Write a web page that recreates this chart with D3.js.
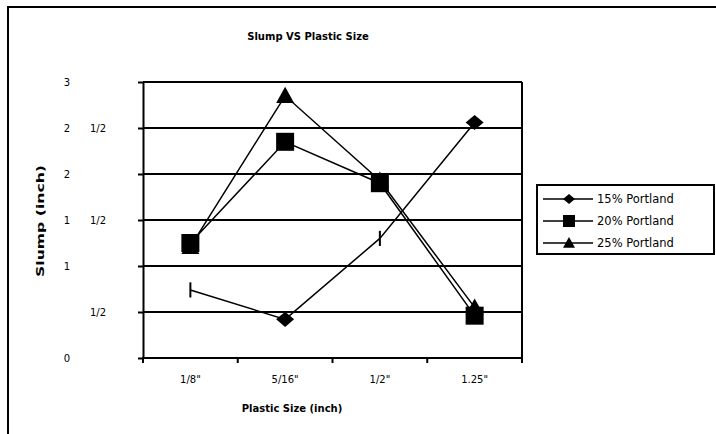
<!DOCTYPE html>
<html lang="en">
<head>
    <meta charset="UTF-8">
    <title>Slump VS Plastic Size</title>
    <script src="https://cdn.jsdelivr.net/npm/d3@7"></script>
    <style>
        html, body { margin: 0; background: #fff; overflow: hidden; }
        svg { display: block; }
        svg text { font-family: "DejaVu Sans", Verdana, sans-serif; fill: #000; }
    </style>
</head>
<body>
    <div class="chart"></div>
    <script>
    "use strict";

    // data
    var sizes = ['1/8"', '5/16"', '1/2"', '1.25"'];
    var portland15 = [0.74, 0.42, 1.30, 2.56];
    var portland20 = [1.25, 2.35, 1.90, 0.46];
    var portland25 = [1.21, 2.85, 1.93, 0.55];
    var seriesNames = ["15% Portland", "20% Portland", "25% Portland"];
    var yTicks = [0, 0.5, 1, 1.5, 2, 2.5, 3];
    var yTickWhole = ["0", "", "1", "1", "2", "2", "3"];
    var yTickFrac = ["", "1/2", "", "1/2", "", "1/2", ""];

    // marker drawn at each point of the 15% series (as rendered in the original)
    var marks15 = ["bar", "diamond", "bar", "diamond"];

    var W = 716, H = 434;
    var plot = {left: 143, right: 522, top: 82, bottom: 358};

    var svg = d3.select(".chart").append("svg")
        .attr("width", W)
        .attr("height", H);

    // outer frame (clipped at right / bottom)
    svg.append("path")
        .attr("d", "M8," + (H + 5) + "V7H" + (W + 5))
        .attr("fill", "none")
        .attr("stroke", "#000")
        .attr("stroke-width", 2);

    var x = d3.scaleBand()
        .domain(sizes)
        .range([plot.left, plot.right])
        .padding(0);

    var y = d3.scaleLinear()
        .domain([0, 3])
        .range([plot.bottom, plot.top]);

    // gridlines
    svg.selectAll("line.grid")
        .data(yTicks.filter(function(d) { return d > 0; }))
        .enter().append("line")
        .attr("class", "grid")
        .attr("x1", plot.left)
        .attr("x2", plot.right)
        .attr("y1", function(d) { return y(d); })
        .attr("y2", function(d) { return y(d); })
        .attr("stroke", "#000")
        .attr("stroke-width", 2);

    // right border
    svg.append("line")
        .attr("x1", plot.right).attr("x2", plot.right)
        .attr("y1", plot.top).attr("y2", plot.bottom)
        .attr("stroke", "#000").attr("stroke-width", 2);

    // y axis
    var yAxis = svg.append("g")
        .attr("transform", "translate(" + plot.left + ",0)")
        .call(d3.axisLeft(y).tickValues(yTicks).tickSize(5).tickSizeOuter(0).tickFormat(""));
    yAxis.selectAll("path, line").attr("stroke", "#000").attr("stroke-width", 2);

    svg.selectAll("text.ywhole")
        .data(yTicks)
        .enter().append("text")
        .attr("class", "ywhole")
        .attr("x", 67)
        .attr("y", function(d) { return y(d) + 4; })
        .attr("text-anchor", "middle")
        .style("font-size", "10px")
        .text(function(d, i) { return yTickWhole[i]; });

    svg.selectAll("text.yfrac")
        .data(yTicks)
        .enter().append("text")
        .attr("class", "yfrac")
        .attr("x", 98)
        .attr("y", function(d) { return y(d) + 4; })
        .attr("text-anchor", "middle")
        .style("font-size", "10px")
        .text(function(d, i) { return yTickFrac[i]; });

    // x axis
    svg.append("line")
        .attr("x1", plot.left - 1).attr("x2", plot.right + 1)
        .attr("y1", plot.bottom).attr("y2", plot.bottom)
        .attr("stroke", "#000").attr("stroke-width", 2);

    var bounds = sizes.map(function(d) { return x(d); }).concat([x(sizes[sizes.length - 1]) + x.bandwidth()]);
    svg.selectAll("line.xtick")
        .data(bounds)
        .enter().append("line")
        .attr("class", "xtick")
        .attr("x1", function(d) { return d; })
        .attr("x2", function(d) { return d; })
        .attr("y1", plot.bottom)
        .attr("y2", plot.bottom + 5)
        .attr("stroke", "#000").attr("stroke-width", 2);

    var xAxis = svg.append("g")
        .attr("transform", "translate(0," + plot.bottom + ")")
        .call(d3.axisBottom(x).tickSize(0).tickPadding(18));
    xAxis.select(".domain").remove();
    xAxis.selectAll("text")
        .style("font-family", '"DejaVu Sans", Verdana, sans-serif')
        .style("font-size", "10px")
        .attr("fill", "#000");

    // titles
    svg.append("text")
        .attr("x", 308).attr("y", 40)
        .attr("text-anchor", "middle")
        .style("font-size", "10px")
        .style("font-weight", "bold")
        .text("Slump VS Plastic Size");

    svg.append("text")
        .attr("x", 292).attr("y", 412)
        .attr("text-anchor", "middle")
        .style("font-size", "10px")
        .style("font-weight", "bold")
        .text("Plastic Size (inch)");

    svg.append("text")
        .attr("transform", "translate(44,221) rotate(-90)")
        .attr("text-anchor", "middle")
        .attr("textLength", 112)
        .attr("lengthAdjust", "spacingAndGlyphs")
        .style("font-size", "11px")
        .style("font-weight", "bold")
        .text("Slump (inch)");

    // markers
    function marker(g, type, s) {
        if (type === "diamond") {
            g.append("path").attr("d", "M0," + (-s * 0.42) + "L" + (s / 2) + ",0L0," + (s * 0.42) + "L" + (-s / 2) + ",0Z");
        } else if (type === "square") {
            g.append("rect").attr("x", -s / 2).attr("y", -s / 2).attr("width", s).attr("height", s);
        } else if (type === "triangle") {
            g.append("path").attr("d", "M0," + (-s * 0.5) + "L" + (s / 2) + "," + (s * 0.4) + "L" + (-s / 2) + "," + (s * 0.4) + "Z");
        } else if (type === "bar") {
            g.append("rect").attr("x", -1).attr("y", -s * 0.42).attr("width", 2).attr("height", s * 0.84);
        }
        g.attr("fill", "#000");
    }

    var series = [
        {name: seriesNames[0], values: portland15, marks: marks15},
        {name: seriesNames[1], values: portland20, marks: sizes.map(function() { return "square"; })},
        {name: seriesNames[2], values: portland25, marks: sizes.map(function() { return "triangle"; })}
    ];

    var line = d3.line()
        .x(function(d, i) { return x(sizes[i]) + x.bandwidth() / 2; })
        .y(function(d) { return y(d); });

    series.forEach(function(s) {
        svg.append("path")
            .attr("d", line(s.values))
            .attr("fill", "none")
            .attr("stroke", "#000")
            .attr("stroke-width", 1.5);
    });

    // draw 25% first so 20% squares sit on top, as in the original
    [series[2], series[1], series[0]].forEach(function(s) {
        s.values.forEach(function(v, i) {
            var g = svg.append("g")
                .attr("transform", "translate(" + (x(sizes[i]) + x.bandwidth() / 2) + "," + y(v) + ")");
            marker(g, s.marks[i], 18);
        });
    });

    // legend
    var legend = svg.append("g").attr("transform", "translate(537,185)");
    legend.append("rect")
        .attr("width", 177).attr("height", 69)
        .attr("fill", "#fff")
        .attr("stroke", "#000").attr("stroke-width", 2);

    var legendMarks = ["diamond", "square", "triangle"];
    seriesNames.forEach(function(name, i) {
        var row = legend.append("g").attr("transform", "translate(0," + (14 + i * 22) + ")");
        row.append("line")
            .attr("x1", 6).attr("x2", 56)
            .attr("stroke", "#000").attr("stroke-width", 1.5);
        var g = row.append("g").attr("transform", "translate(32,0)");
        marker(g, legendMarks[i], 12);
        row.append("text")
            .attr("x", 60).attr("y", 4)
            .style("font-size", "11.5px")
            .text(name);
    });
    </script>
</body>
</html>
